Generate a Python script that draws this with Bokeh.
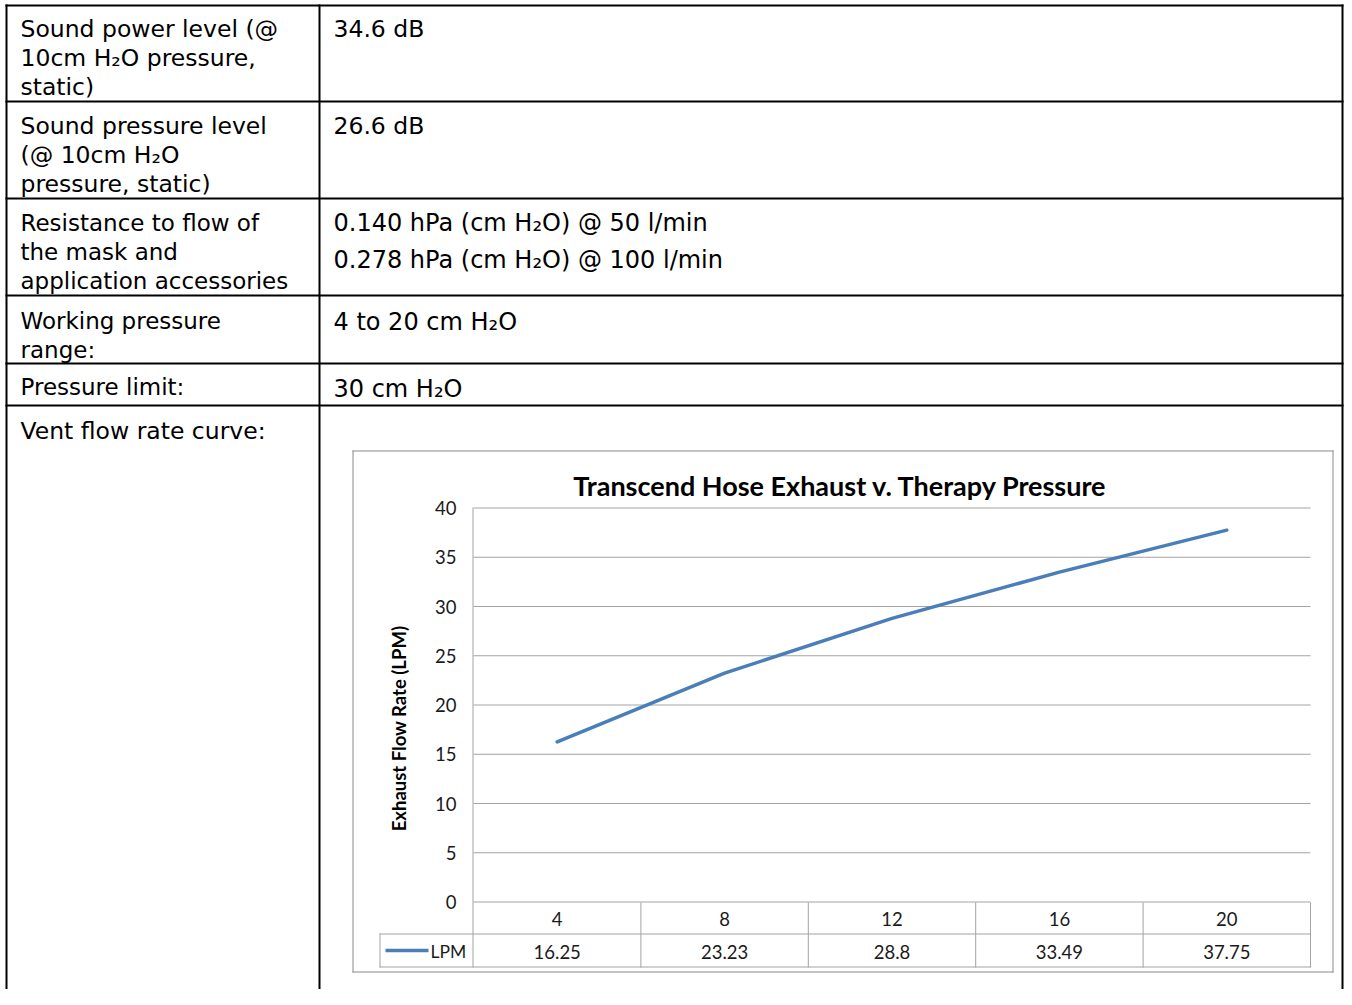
import math
from bokeh.plotting import figure
from bokeh.models import Range1d, Grid
from bokeh.core.properties import value
from bokeh.embed import file_html
from bokeh.resources import INLINE

# ---------------- data ----------------
pressure = [4, 8, 12, 16, 20]                 # therapy pressure (cm H2O)
lpm = [16.25, 23.23, 28.8, 33.49, 37.75]       # exhaust flow (LPM)
y_ticks = [0, 5, 10, 15, 20, 25, 30, 35, 40]
x_bounds = [2, 6, 10, 14, 18, 22]              # data-table cell edges
series_name = "LPM"
chart_title = "Transcend Hose Exhaust v. Therapy Pressure"
y_label = "Exhaust Flow Rate (LPM)"

spec_labels = [
    ["Sound power level (@", "10cm H\u2082O pressure,", "static)"],
    ["Sound pressure level", "(@ 10cm H\u2082O", "pressure, static)"],
    ["Resistance to flow of", "the mask and", "application accessories"],
    ["Working pressure", "range:"],
    ["Pressure limit:"],
    ["Vent flow rate curve:"],
]
spec_values = [
    ["34.6 dB"],
    ["26.6 dB"],
    ["0.140 hPa (cm H\u2082O) @ 50 l/min", "0.278 hPa (cm  H\u2082O) @ 100 l/min"],
    ["4 to 20 cm H\u2082O"],
    ["30 cm H\u2082O"],
    [],
]

# ---------------- layout (picture pixels) ----------------
W, H = 1344, 989
PX0, PX1 = 473, 1310          # plot area left/right
PY0, PY40 = 901.5, 507.5      # y=0 and y=40 lines
label_y = [[28, 57, 86], [125, 154, 183], [222, 251, 280], [320, 349], [386], [430]]
value_y = [[28], [125], [222, 259], [321], [388], []]
TABLE_FONT = "DejaVu Sans"
label_sizes = ["23.5px", "23.5px", "23px", "23px", "23px", "23.5px"]
value_sizes = ["23.5px", "23.5px", "24px", "24px", "24px", "23px"]
CHART_FONT = "Lato"

p = figure(width=W, height=H, x_range=Range1d(0, W), y_range=Range1d(H, 0),
           output_backend="svg", toolbar_location=None,
           x_axis_location=None, y_axis_location=None, min_border=0)
p.outline_line_color = None
p.background_fill_color = "white"
p.border_fill_color = "white"
for r in list(p.center):
    if isinstance(r, Grid):
        r.visible = False
        r.grid_line_color = None

# chart scales: data -> plot area
ax = (PX1 - PX0) / (x_bounds[-1] - x_bounds[0])
by = (PY0 - PY40) / (y_ticks[-1] - y_ticks[0])
p.extra_x_ranges = {"cx": Range1d(x_bounds[0] - PX0 / ax, x_bounds[0] + (W - PX0) / ax)}
p.extra_y_ranges = {"cy": Range1d(y_ticks[0] - (H - PY0) / by, y_ticks[0] + PY0 / by)}

GRID = "#a3a3a3"
FRAME = "#8a8a8a"
TXT = "#1a1a1a"
BLUE = "#4a7ebb"


def rect(l, r, t, b, color):
    p.quad(left=[l], right=[r], top=[t], bottom=[b], fill_color=color, line_color=None)


# ---- outer spec table (black) ----
rect(5, 1343, 4, 6, "black")
for yy in [100, 197, 294, 362, 404]:
    rect(5, 1343, yy, yy + 2, "black")
rect(5, 7, 4, H, "black")
rect(318, 320, 4, H, "black")
rect(1341, 1343, 4, H, "black")

# ---- chart area border ----
rect(352, 1333, 450, 451, FRAME)
rect(352, 1333, 971, 972, FRAME)
rect(352, 353, 450, 972, FRAME)
rect(1332, 1333, 450, 972, FRAME)

# ---- gridlines (through chart scales) ----
p.segment(x0=[x_bounds[0]] * len(y_ticks), x1=[x_bounds[-1]] * len(y_ticks),
          y0=y_ticks, y1=y_ticks, x_range_name="cx", y_range_name="cy",
          line_color=GRID, line_width=1)
# value axis line continuing into the data table
rect(472, 473, 507, 967, GRID)
# data table grid
p.segment(x0=x_bounds[1:], x1=x_bounds[1:], y0=[902] * 5, y1=[967] * 5,
          x_range_name="cx", line_color=GRID, line_width=1)
rect(379, PX1, 933, 934, GRID)
rect(379, PX1, 966, 967, GRID)
rect(379, 380, 933, 967, GRID)

# ---- series ----
p.line(pressure, lpm, x_range_name="cx", y_range_name="cy",
       line_color=BLUE, line_width=3.5, line_join="round", line_cap="round")

# ---- y tick labels ----
p.text(x=[x_bounds[0]] * len(y_ticks), y=y_ticks, text=[str(t) for t in y_ticks],
       x_range_name="cx", y_range_name="cy", x_offset=-17,
       text_align="right", text_baseline="middle", text_color=TXT,
       text_font=value(CHART_FONT), text_font_size=value("18.5px"))
# y axis title
p.text(x=[398], y=[728], text=[y_label], angle=math.pi / 2,
       text_align="center", text_baseline="middle", text_color="black",
       text_font=value(CHART_FONT), text_font_style="bold", text_font_size=value("18.5px"))
# category row
p.text(x=pressure, y=[918] * len(pressure), text=[str(v) for v in pressure],
       x_range_name="cx", text_align="center", text_baseline="middle", text_color=TXT,
       text_font=value(CHART_FONT), text_font_size=value("18.5px"))
# values row
p.text(x=pressure, y=[951] * len(pressure), text=[str(v) for v in lpm],
       x_range_name="cx", text_align="center", text_baseline="middle", text_color=TXT,
       text_font=value(CHART_FONT), text_font_size=value("18.5px"))
# legend key
p.segment(x0=[385], x1=[428], y0=[950], y1=[950], line_color=BLUE, line_width=3.5)
p.text(x=[430], y=[951], text=[series_name], text_align="left", text_baseline="middle",
       text_color=TXT, text_font=value(CHART_FONT), text_font_size=value("17.5px"))
# chart title
p.text(x=[840], y=[485], text=[chart_title], text_align="center", text_baseline="middle",
       text_color="black", text_font=value(CHART_FONT), text_font_style="bold",
       text_font_size=value("27px"))

# ---- spec table texts ----
for lines, ys, fs in zip(spec_labels, label_y, label_sizes):
    p.text(x=[20] * len(lines), y=ys, text=lines, text_align="left", text_baseline="middle",
           text_color="black", text_font=value(TABLE_FONT), text_font_size=value(fs))
for lines, ys, fs in zip(spec_values, value_y, value_sizes):
    if lines:
        p.text(x=[333] * len(lines), y=ys, text=lines, text_align="left",
               text_baseline="middle", text_color="black",
               text_font=value(TABLE_FONT), text_font_size=value(fs))

open("out.html", "w").write(file_html(p, INLINE))
